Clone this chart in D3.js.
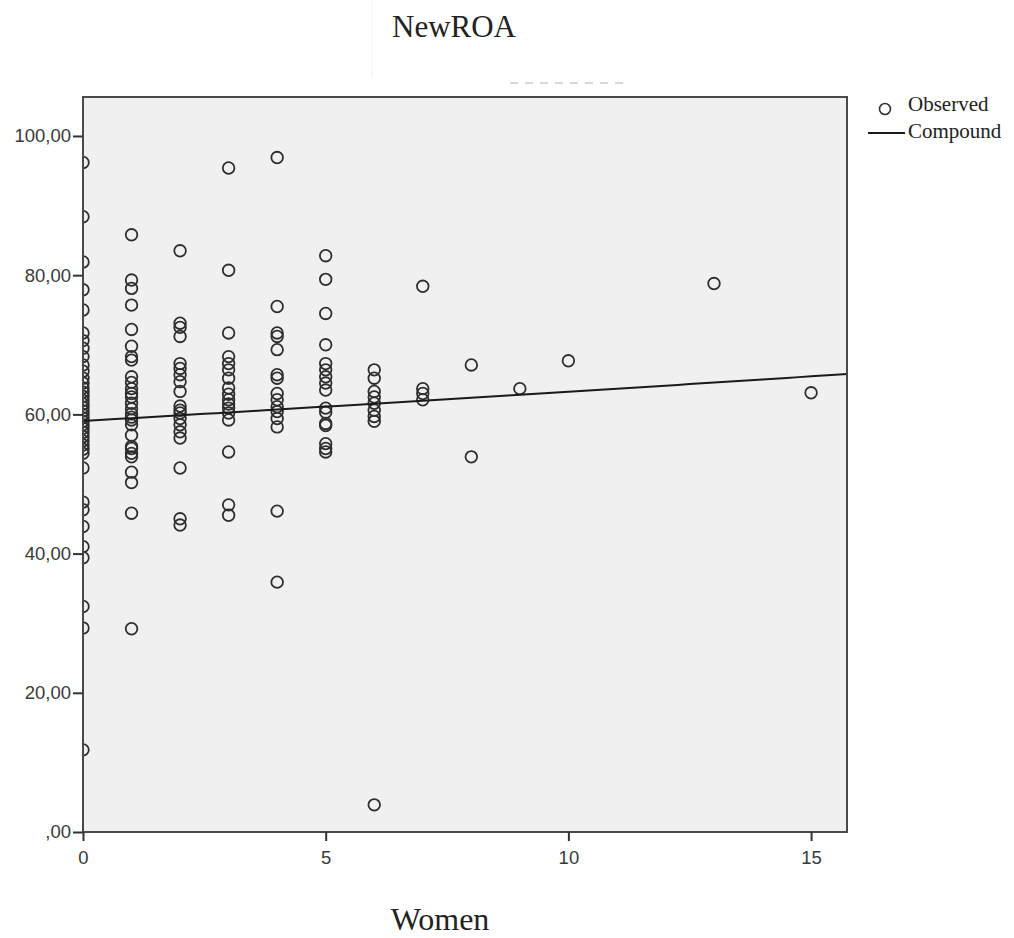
<!DOCTYPE html>
<html>
<head>
<meta charset="utf-8">
<script src="https://cdn.jsdelivr.net/npm/d3@7"></script>
<style>
  body { margin: 0; background: #fff; }
  svg { display: block; }
</style>
</head>
<body>
<div id="chart"></div>
<script>
var width = 1014;
var height = 938;
var left = 83, top_ = 97, right = 847, bottom = 832;

// NewROA observed, grouped by number of women
var womenLevels = [0, 1, 2, 3, 4, 5, 6, 7, 8, 9, 10, 13, 15];
var roa0 = [96.2, 88.4, 81.9, 77.9, 75.0, 71.7, 70.6, 69.5, 68.3, 67.1, 66.2, 65.2, 64.5, 63.8, 63.2, 62.6, 62.0, 61.5, 61.0, 60.5, 60.0, 59.5, 59.0, 58.5, 58.0, 57.4, 56.8, 56.2, 55.6, 55.0, 54.4, 52.3, 47.4, 46.3, 43.9, 41.0, 39.4, 32.4, 29.3, 11.8];
var roa1 = [85.8, 79.3, 78.1, 75.7, 72.2, 69.8, 68.3, 67.8, 65.4, 64.6, 63.7, 63.0, 62.5, 61.6, 60.8, 60.1, 59.6, 59.2, 58.5, 57.0, 55.4, 55.1, 54.4, 53.9, 51.7, 50.2, 45.8, 29.2];
var roa2 = [83.5, 73.1, 72.5, 71.2, 67.3, 66.6, 65.7, 64.7, 63.3, 61.2, 60.6, 60.2, 59.4, 58.5, 57.5, 56.6, 52.3, 45.0, 44.1];
var roa3 = [95.4, 80.7, 71.7, 68.3, 67.3, 66.4, 65.2, 63.8, 62.9, 62.1, 61.5, 60.9, 60.2, 59.2, 54.6, 47.0, 45.5];
var roa4 = [96.9, 75.5, 71.7, 71.2, 69.3, 65.7, 65.2, 63.0, 62.1, 61.1, 60.4, 59.4, 58.2, 46.1, 35.9];
var roa5 = [82.8, 79.4, 74.5, 70.0, 67.3, 66.4, 65.4, 64.5, 63.5, 60.9, 60.3, 58.7, 58.4, 55.8, 55.1, 54.6];
var roa6 = [66.4, 65.2, 63.3, 62.5, 61.6, 60.6, 59.7, 59.0, 3.9];
var roa7 = [78.4, 63.7, 63.0, 62.1];
var roa8 = [67.1, 53.9];
var roa9 = [63.7];
var roa10 = [67.7];
var roa13 = [78.8];
var roa15 = [63.1];
var roaByLevel = [roa0, roa1, roa2, roa3, roa4, roa5, roa6, roa7, roa8, roa9, roa10, roa13, roa15];

// compound fit: y = b0 * b1^x
var b0 = 59.05;
var b1 = 1.0069;

var yTicks = [0, 20, 40, 60, 80, 100];
var xTicks = [0, 5, 10, 15];

var points = [];
womenLevels.forEach(function (w, i) {
  roaByLevel[i].forEach(function (v) {
    points.push({ women: w, roa: v });
  });
});

var svg = d3.select("#chart")
  .append("svg")
  .attr("width", width)
  .attr("height", height);

var x = d3.scaleLinear().domain([0, 15.74]).range([left, right]);
var y = d3.scaleLinear().domain([0, 105.6]).range([bottom, top_]);

// faint leftovers above the plot
svg.append("line")
  .attr("x1", 372).attr("x2", 372).attr("y1", 0).attr("y2", 78)
  .attr("stroke", "#f2f2f2").attr("stroke-width", 1);
svg.append("line")
  .attr("x1", 510).attr("x2", 626).attr("y1", 83).attr("y2", 83)
  .attr("stroke", "#d8d8d8").attr("stroke-width", 2)
  .attr("stroke-dasharray", "8,7");

svg.append("rect")
  .attr("x", left).attr("y", top_)
  .attr("width", right - left).attr("height", bottom - top_)
  .attr("fill", "#f0f0f0");

svg.append("clipPath").attr("id", "plotclip")
  .append("rect")
  .attr("x", left).attr("y", top_)
  .attr("width", right - left).attr("height", bottom - top_);

var plot = svg.append("g").attr("clip-path", "url(#plotclip)");

plot.selectAll("circle")
  .data(points)
  .enter()
  .append("circle")
  .attr("cx", function (d) { return x(d.women); })
  .attr("cy", function (d) { return y(d.roa); })
  .attr("r", 5.8)
  .attr("fill", "none")
  .attr("stroke", "#2e2e2e")
  .attr("stroke-width", 1.8);

var line = d3.line()
  .x(function (d) { return x(d); })
  .y(function (d) { return y(b0 * Math.pow(b1, d)); });

plot.append("path")
  .datum(d3.range(0, 15.76, 0.25))
  .attr("d", line)
  .attr("fill", "none")
  .attr("stroke", "#1a1a1a")
  .attr("stroke-width", 2);

svg.append("rect")
  .attr("x", left).attr("y", top_)
  .attr("width", right - left).attr("height", bottom - top_)
  .attr("fill", "none")
  .attr("stroke", "#4a4a4a")
  .attr("stroke-width", 2);

var axisY = d3.axisLeft(y)
  .tickValues(yTicks)
  .tickSize(10)
  .tickPadding(2)
  .tickFormat(function (d) { return d === 0 ? ",00" : d + ",00"; });

var gy = svg.append("g")
  .attr("transform", "translate(" + left + ",0)")
  .call(axisY);

var axisX = d3.axisBottom(x)
  .tickValues(xTicks)
  .tickSize(9)
  .tickPadding(10);

var gx = svg.append("g")
  .attr("transform", "translate(0," + bottom + ")")
  .call(axisX);

[gx, gy].forEach(function (g) {
  g.select(".domain").remove();
  g.selectAll(".tick line").attr("stroke", "#333").attr("stroke-width", 2);
  g.selectAll(".tick text")
    .attr("fill", "#3a3a3a")
    .style("font-family", "'Liberation Sans', Arial, sans-serif")
    .style("font-size", "18.5px");
});

svg.append("text")
  .attr("x", 454).attr("y", 37)
  .attr("text-anchor", "middle")
  .style("font-family", "'Liberation Serif', 'Times New Roman', serif")
  .style("font-size", "31px")
  .attr("fill", "#222")
  .text("NewROA");

svg.append("text")
  .attr("x", 440).attr("y", 930)
  .attr("text-anchor", "middle")
  .style("font-family", "'Liberation Serif', 'Times New Roman', serif")
  .style("font-size", "32px")
  .attr("fill", "#222")
  .text("Women");

// legend
var legend = svg.append("g");
legend.append("circle")
  .attr("cx", 885).attr("cy", 109).attr("r", 5.5)
  .attr("fill", "none").attr("stroke", "#333").attr("stroke-width", 1.6);
legend.append("line")
  .attr("x1", 868).attr("x2", 905).attr("y1", 133).attr("y2", 133)
  .attr("stroke", "#1a1a1a").attr("stroke-width", 2);
legend.append("text")
  .attr("x", 908).attr("y", 111)
  .style("font-family", "'Liberation Serif', 'Times New Roman', serif")
  .style("font-size", "21px")
  .attr("fill", "#222")
  .text("Observed");
legend.append("text")
  .attr("x", 908).attr("y", 138)
  .style("font-family", "'Liberation Serif', 'Times New Roman', serif")
  .style("font-size", "21px")
  .attr("fill", "#222")
  .text("Compound");
</script>
</body>
</html>
